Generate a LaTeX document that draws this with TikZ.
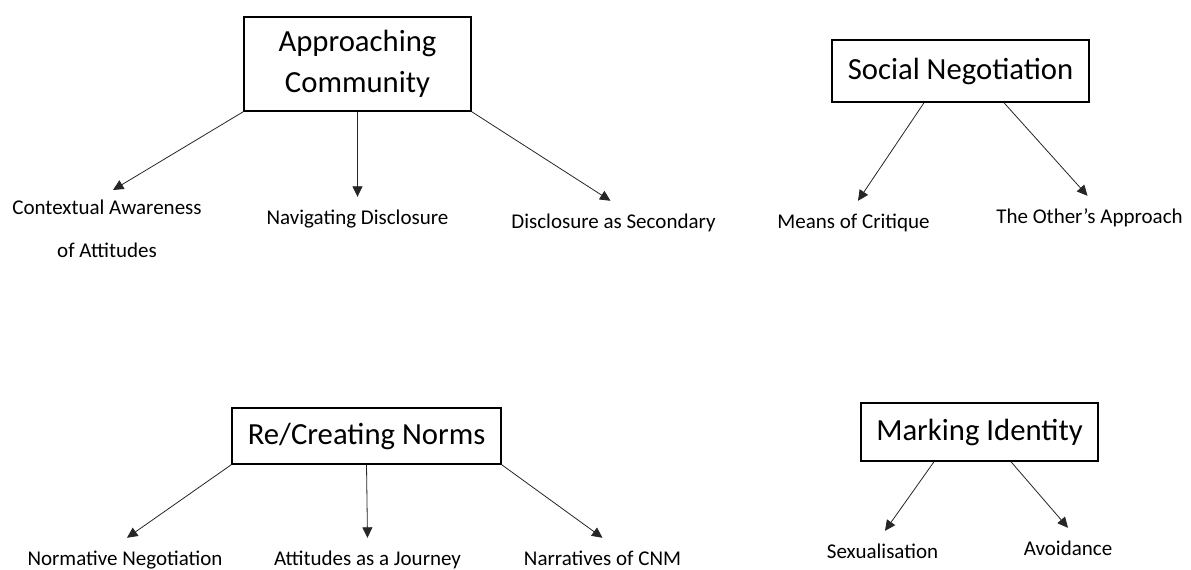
\documentclass[tikz,border=0pt]{standalone}
\usepackage{fontspec}
\setmainfont{Carlito}
\usepackage{tikz}
\usetikzlibrary{arrows.meta}

\begin{document}
\begin{tikzpicture}[x=1pt, y=-1pt,
topic/.style={draw, line width=1.5pt, inner sep=0pt, align=center, font=\fontsize{30.7}{41}\selectfont},
theme/.style={inner xsep=0pt, inner ysep=9.5pt, align=center, font=\fontsize{21}{25}\selectfont, execute at begin node=\strut},
link/.style={-{Triangle[length=10.5pt,width=10pt]}, line width=0.8pt, black!85}]
\path[use as bounding box, fill=white] (0,0) rectangle (1191,570);

% top row
\node[topic, minimum width=227pt, minimum height=94pt] (apcom) at (357.5,64) {Approaching\\Community};
\node[topic, minimum width=257pt, minimum height=62pt] (socneg) at (960.5,71) {Social Negotiation};

\node[theme, anchor=north] (ctx) at (107,190) {Contextual Awareness\\[18pt]of Attitudes};
\node[theme] (nav) at (357.5,219) {Navigating Disclosure};
\node[theme] (sec) at (613.5,223) {Disclosure as Secondary};
\node[theme] (crit) at (853.5,223) {Means of Critique};
\node[theme] (other) at (1089.5,218) {The Other’s Approach};

\draw[link] (apcom.south west) -- ([xshift=6pt]ctx.north);
\draw[link] (apcom.south) -- (nav.north);
\draw[link] (apcom.south east) -- ([xshift=-3pt]sec.north);
\draw[link] ([xshift=-36.5pt]socneg.south) -- ([xshift=4.5pt]crit.north);
\draw[link] ([xshift=43.5pt]socneg.south) -- ([xshift=-2pt]other.north);

% bottom row
\node[topic, minimum width=269pt, minimum height=56pt] (recnorm) at (366.5,436) {Re/Creating Norms};
\node[topic, minimum width=237pt, minimum height=58pt] (markid) at (979.5,432) {Marking Identity};

\node[theme] (norm) at (125,560) {Normative Negotiation};
\node[theme] (jour) at (367.5,560) {Attitudes as a Journey};
\node[theme] (cnm) at (602.5,560) {Narratives of CNM};
\node[theme] (sex) at (882.5,553) {Sexualisation};
\node[theme] (avoid) at (1068,550) {Avoidance};

\draw[link] (recnorm.south west) -- ([xshift=2pt]norm.north);
\draw[link] (recnorm.south) -- (jour.north);
\draw[link] (recnorm.south east) -- (cnm.north);
\draw[link] ([xshift=-45.5pt]markid.south) -- ([xshift=2.5pt]sex.north);
\draw[link] ([xshift=31.5pt]markid.south) -- (avoid.north);
\end{tikzpicture}
\end{document}
